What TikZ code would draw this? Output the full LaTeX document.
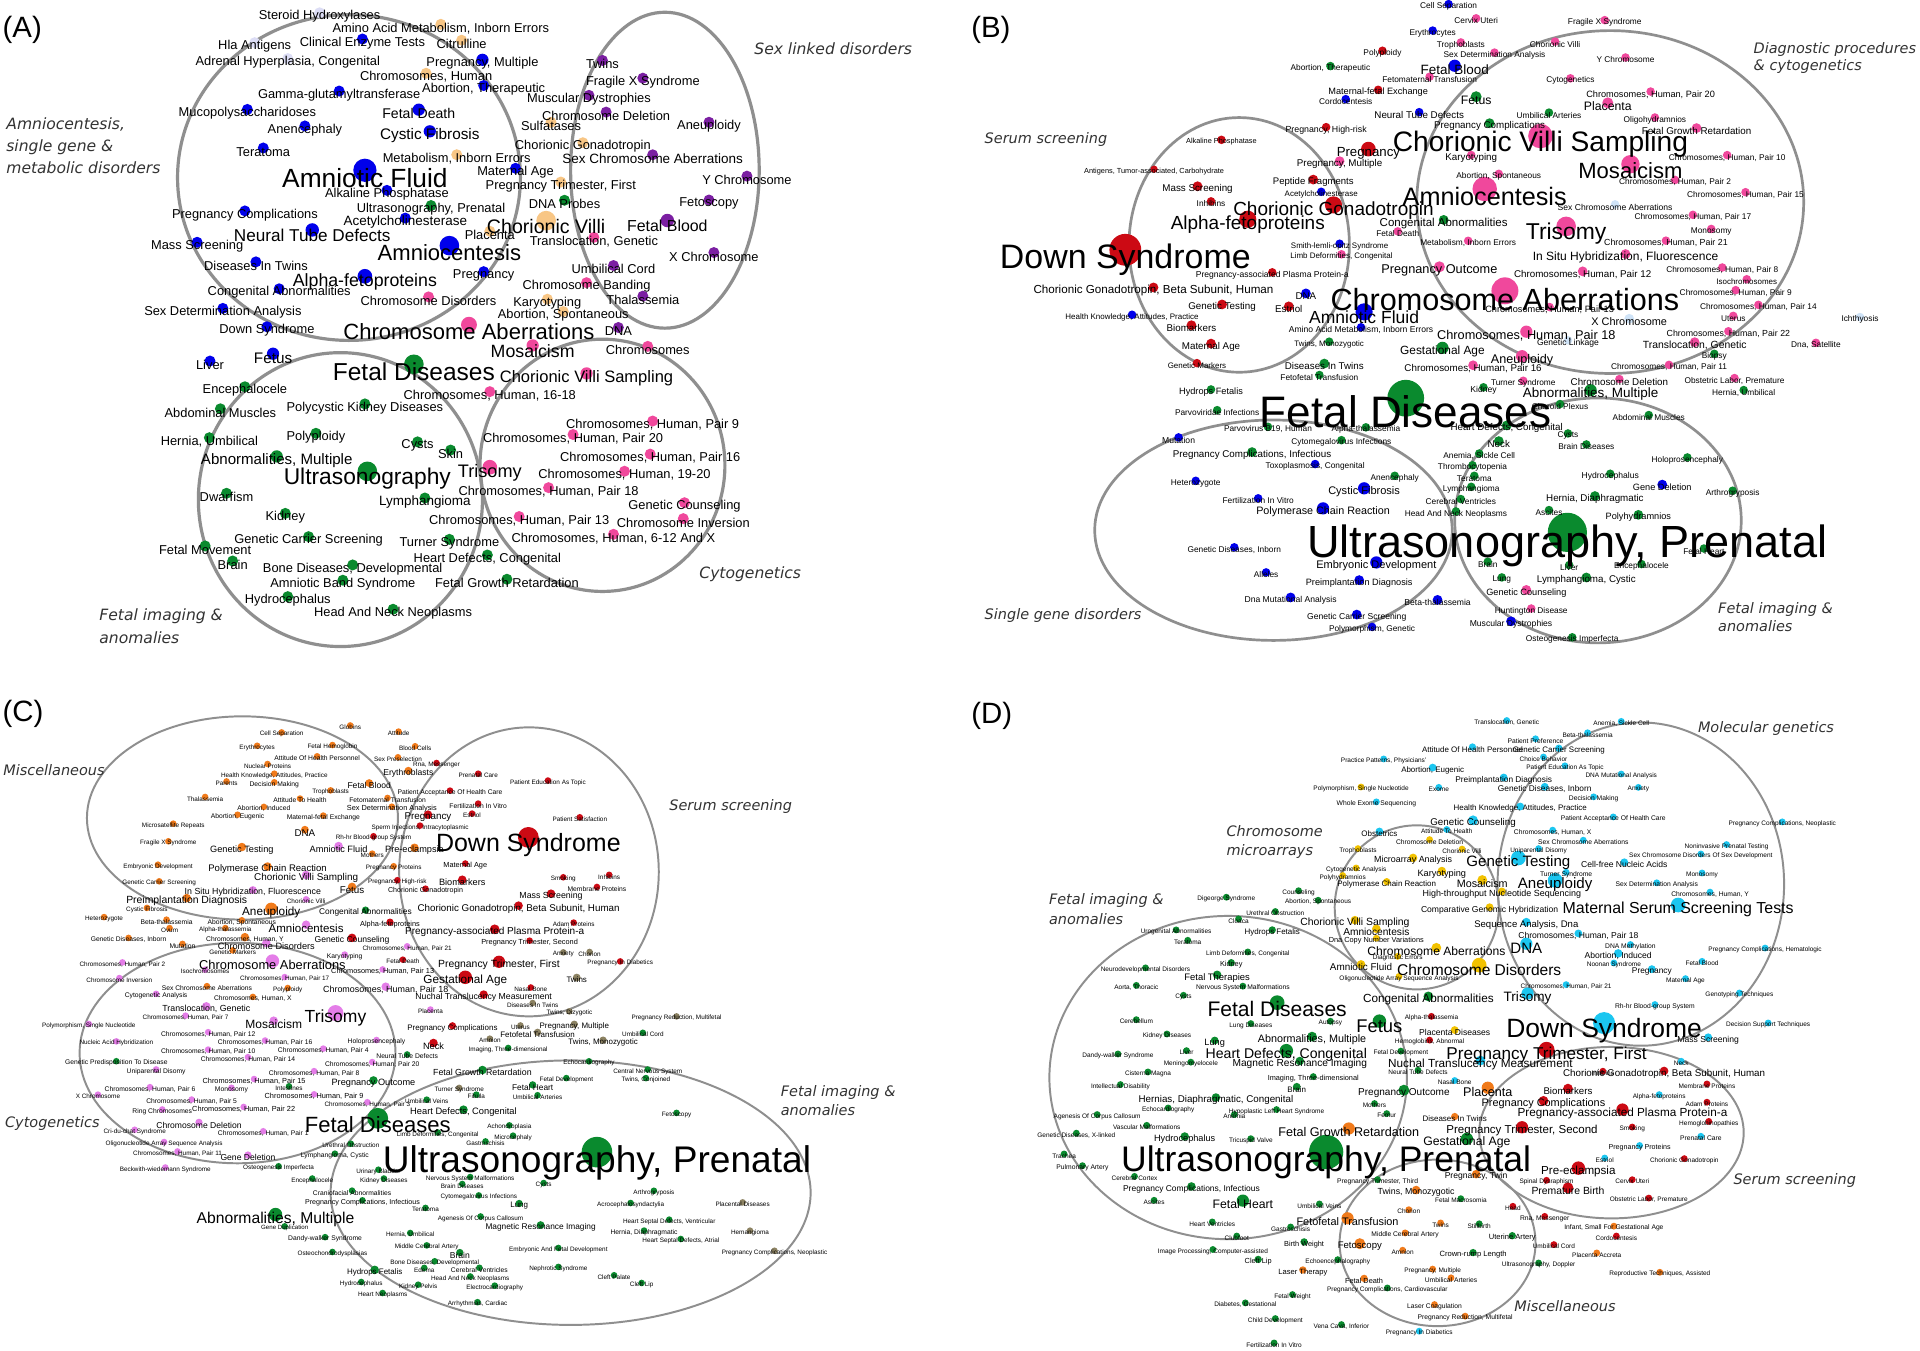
\documentclass[tikz,border=0pt]{standalone}
\usepackage{fontspec}
\setmainfont{Liberation Sans}
\newfontfamily\clfont{DejaVu Sans}
\definecolor{bA}{HTML}{0000EB}
\definecolor{pA}{HTML}{7B1FA2}
\definecolor{kA}{HTML}{F0489C}
\definecolor{gA}{HTML}{0A8A2E}
\definecolor{tA}{HTML}{F8C685}
\definecolor{lA}{HTML}{DCDDF5}
\definecolor{rB}{HTML}{CC0A14}
\definecolor{lb}{HTML}{CFE3F7}
\definecolor{cD}{HTML}{1BC6F0}
\definecolor{yD}{HTML}{F2C200}
\definecolor{oC}{HTML}{F07A1A}
\definecolor{vC}{HTML}{E47DE8}
\definecolor{nC}{HTML}{8C8262}
\definecolor{ellc}{HTML}{8F8F8F}
\definecolor{clc}{HTML}{333333}
\tikzset{
  lbl/.style={inner sep=0pt, text=black},
  ell/.style={draw=ellc},
  cll/.style={inner sep=0pt, anchor=west, text=clc},
  panl/.style={inner sep=0pt, anchor=west, font=\fontsize{24}{24}\selectfont}
}
\newcommand\cl[4]{\node[cll,font=\clfont\itshape\fontsize{#3}{#3}\selectfont] (#4) at (#1) {#2};}
\newcommand\alldata{%
% ---------------- Panel A
\lab{261}{13.6}{lA}{4.5}{10.5}{Steroid Hydroxylases}
\lab{360}{23}{tA}{4.5}{10.5}{Amino Acid Metabolism, Inborn Errors}
\lab{208}{38}{lA}{4.5}{10.5}{Hla Antigens}
\lab{296}{35}{bA}{4.5}{10.5}{Clinical Enzyme Tests}
\lab{377}{36}{tA}{4.5}{10.5}{Citrulline}
\lab{235}{51}{lA}{4.5}{10.5}{Adrenal Hyperplasia, Congenital}
\lab{394}{52}{bA}{5}{10.5}{Pregnancy, Multiple}
\lab{348}{63}{tA}{4.5}{10.5}{Chromosomes, Human}
\lab{277}{77.5}{bA}{4.5}{10.5}{Gamma-glutamyltransferase}
\lab{395}{73}{bA}{4.5}{10.5}{Abortion, Therapeutic}
\lab{202}{92.5}{bA}{4.5}{10.5}{Mucopolysaccharidoses}
\lab{342}{93}{bA}{5}{11.5}{Fetal Death}
\lab{249}{106}{bA}{4.5}{10.5}{Anencephaly}
\lab{351}{111}{bA}{5}{12.5}{Cystic Fibrosis}
\lab{215}{124}{bA}{4.5}{10.5}{Teratoma}
\lab{373}{129.5}{tA}{4.5}{10.5}{Metabolism, Inborn Errors}
\lab{298}{145.5}{bA}{9.5}{21.5}{Amniotic Fluid}
\lab{421}{140.6}{bA}{4.5}{10.5}{Maternal Age}
\lab{316}{158.6}{bA}{4.5}{10.5}{Alkaline Phosphatase}
\lab{458}{151.8}{tA}{4.5}{10.5}{Pregnancy Trimester, First}
\lab{461}{166.7}{gA}{4.5}{10.5}{DNA Probes}
\lab{352}{171}{gA}{4.5}{10.5}{Ultrasonography, Prenatal}
\lab{200}{175.4}{bA}{4.5}{10.5}{Pregnancy Complications}
\lab{331}{181.4}{bA}{4.5}{11}{Acetylcholinesterase}
\lab{446}{185}{tA}{8}{16}{Chorionic Villi}
\lab{545}{184}{pA}{5.5}{13}{Fetal Blood}
\lab{255}{192}{bA}{5.5}{14}{Neural Tube Defects}
\lab{400}{192}{tA}{4.5}{10.5}{Placenta}
\lab{485}{197}{kA}{4.5}{10.5}{Translocation, Genetic}
\lab{367}{206}{bA}{8}{18}{Amniocentesis}
\lab{583}{209.4}{pA}{4.5}{10.5}{X Chromosome}
\lab{161}{201}{bA}{4.5}{10.5}{Mass Screening}
\lab{209}{217}{bA}{4.5}{10.5}{Diseases In Twins}
\lab{501}{220}{pA}{4.5}{10.5}{Umbilical Cord}
\lab{298}{230}{bA}{6}{14.5}{Alpha-fetoproteins}
\lab{395}{225}{bA}{4.5}{10.5}{Pregnancy}
\lab{479}{234}{kA}{4.5}{10.5}{Chromosome Banding}
\lab{228}{239}{bA}{4.5}{10.5}{Congenital Abnormalities}
\lab{525}{245}{pA}{4.5}{10.5}{Thalassemia}
\lab{350}{245.6}{kA}{4.5}{10.5}{Chromosome Disorders}
\lab{447}{247.5}{tA}{4.5}{10.5}{Karyotyping}
\lab{182}{255}{bA}{4.5}{10.5}{Sex Determination Analysis}
\lab{460}{257.6}{tA}{4.5}{10.5}{Abortion, Spontaneous}
\lab{218}{270}{bA}{4.5}{10.5}{Down Syndrome}
\lab{383}{270.6}{kA}{6.5}{18}{Chromosome Aberrations}
\lab{505}{270.6}{pA}{4.5}{10.5}{DNA}
\lab{492}{52.5}{pA}{4.5}{10.5}{Twins}
\lab{525}{67}{pA}{4.5}{10.5}{Fragile X Syndrome}
\lab{481}{81}{pA}{4.5}{10.5}{Muscular Dystrophies}
\lab{495}{94.7}{pA}{4.5}{10.5}{Chromosome Deletion}
\lab{450}{103}{tA}{4.5}{10.5}{Sulfatases}
\lab{579}{103}{pA}{4.5}{10.5}{Aneuploidy}
\lab{476}{119.7}{tA}{4.5}{10.5}{Chorionic Gonadotropin}
\lab{533}{129.7}{pA}{4.5}{11}{Sex Chromosome Aberrations}
\lab{610}{147}{pA}{4.5}{10.5}{Y Chromosome}
\lab{579}{166.5}{pA}{4.5}{10.5}{Fetoscopy}
\lab{435}{286.4}{kA}{5}{14.5}{Mosaicism}
\lab{529}{286}{kA}{4.5}{10.5}{Chromosomes}
\lab{171.5}{298}{bA}{4.5}{10.5}{Liver}
\lab{223}{292.6}{bA}{5}{12.5}{Fetus}
\lab{338}{303.5}{gA}{8}{20}{Fetal Diseases}
\lab{479}{309}{kA}{5}{13.5}{Chorionic Villi Sampling}
\lab{200}{319}{gA}{4.5}{10.5}{Encephalocele}
\lab{400}{323}{kA}{4.5}{10.5}{Chromosomes, Human, 16-18}
\lab{180}{337}{gA}{4.5}{10.5}{Abdominal Muscles}
\lab{298}{333}{gA}{4.5}{10.5}{Polycystic Kidney Diseases}
\lab{533}{347}{kA}{4.5}{10.5}{Chromosomes, Human, Pair 9}
\lab{468}{358}{kA}{4.5}{10.5}{Chromosomes, Human, Pair 20}
\lab{171}{360.6}{gA}{4.5}{10.5}{Hernia, Umbilical}
\lab{258}{357}{gA}{4.5}{10.5}{Polyploidy}
\lab{341}{364}{gA}{4.5}{10.5}{Cysts}
\lab{368}{370.7}{gA}{4.5}{10.5}{Skin}
\lab{531}{374}{kA}{4.5}{10.5}{Chromosomes, Human, Pair 16}
\lab{226}{376.4}{gA}{5}{12.3}{Abnormalities, Multiple}
\lab{300}{390.5}{gA}{8}{18.6}{Ultrasonography}
\lab{400}{386}{kA}{6}{14.8}{Trisomy}
\lab{510}{388}{kA}{4.5}{10.5}{Chromosomes, Human, 19-20}
\lab{448}{401.4}{kA}{4.5}{10.5}{Chromosomes, Human, Pair 18}
\lab{185}{406}{gA}{4.5}{10.5}{Dwarfism}
\lab{347}{410}{gA}{4.5}{11}{Lymphangioma}
\lab{559}{413.7}{kA}{4.5}{10.5}{Genetic Counseling}
\lab{233}{422.4}{gA}{4.5}{10.5}{Kidney}
\lab{424}{425}{kA}{4.5}{10.5}{Chromosomes, Human, Pair 13}
\lab{558}{426.7}{kA}{4.5}{10.5}{Chromosome Inversion}
\lab{252}{441.4}{gA}{4.5}{10.5}{Genetic Carrier Screening}
\lab{501}{439.5}{kA}{4.5}{10.5}{Chromosomes, Human, 6-12 And X}
\lab{367}{443.6}{gA}{4.5}{10.5}{Turner Syndrome}
\lab{167.5}{449}{gA}{4.5}{10.5}{Fetal Movement}
\lab{398}{456.4}{gA}{4.5}{10.5}{Heart Defects, Congenital}
\lab{190}{461.3}{gA}{4.5}{10.5}{Brain}
\lab{288}{464.5}{gA}{4.5}{10.5}{Bone Diseases, Developmental}
\lab{280}{477}{gA}{4.5}{10.5}{Amniotic Band Syndrome}
\lab{414}{476.2}{gA}{4.5}{10.5}{Fetal Growth Retardation}
\lab{235}{490.4}{gA}{4.5}{10.5}{Hydrocephalus}
\lab{321}{500.7}{gA}{4.5}{10.5}{Head And Neck Neoplasms}
% ---------------- Panel B
\lab{1183}{5.4}{bA}{3.5}{6.8}{Cell Separation}
\lab{1205.5}{17}{kA}{3.5}{6.8}{Cervix Uteri}
\lab{1310.5}{18.5}{kA}{3.5}{6.8}{Fragile X Syndrome}
\lab{1170}{27}{bA}{3.5}{6.8}{Erythrocytes}
\lab{1193}{36.7}{kA}{3.5}{6.8}{Trophoblasts}
\lab{1270}{36}{kA}{3.5}{6.8}{Chorionic Villi}
\lab{1129}{43.5}{rB}{3.5}{6.8}{Polyploidy}
\lab{1220.5}{45}{kA}{3.5}{6.8}{Sex Determination Analysis}
\lab{1327.5}{49}{kA}{3.5}{6.8}{Y Chromosome}
\lab{1086.5}{56}{gA}{3.5}{6.8}{Abortion, Therapeutic}
\lab{1188}{57}{bA}{5}{11}{Fetal Blood}
\lab{1167.5}{64.7}{kA}{3.5}{6.8}{Fetomaternal Transfusion}
\lab{1282.5}{66}{kA}{3.5}{6.8}{Cytogenetics}
\lab{1348}{77}{kA}{3.5}{7.5}{Chromosomes, Human, Pair 20}
\lab{1125.5}{75.6}{rB}{3.5}{7.5}{Maternal-fetal Exchange}
\lab{1099}{83}{bA}{3.5}{6.8}{Cordocentesis}
\lab{1205.5}{82}{gA}{4.5}{10}{Fetus}
\lab{1313}{87}{kA}{4.5}{10}{Placenta}
\lab{1159}{94}{bA}{3.5}{8}{Neural Tube Defects}
\lab{1265}{94}{gA}{3.5}{6.8}{Umbilical Arteries}
\lab{1351.5}{98}{kA}{3.5}{6.8}{Oligohydramnios}
\lab{1083}{106}{rB}{3.5}{7.2}{Pregnancy, High-risk}
\lab{1216.5}{103}{gA}{4}{8}{Pregnancy Complications}
\lab{1385.5}{107}{kA}{4}{8}{Fetal Growth Retardation}
\lab{997.5}{116}{rB}{3.5}{6}{Alkaline Phosphatase}
\lab{1258}{118}{kA}{10}{23}{Chorionic Villi Sampling}
\lab{1117.5}{125}{rB}{6}{10.8}{Pregnancy}
\lab{1201.5}{129}{kA}{3.5}{8}{Karyotyping}
\lab{1410.5}{128.7}{kA}{3.5}{6.8}{Chromosomes, Human, Pair 10}
\lab{1094}{134}{kA}{4}{8}{Pregnancy, Multiple}
\lab{1331.5}{139.5}{kA}{7.5}{18}{Mosaicism}
\lab{942.5}{140}{rB}{3}{6}{Antigens, Tumor-associated, Carbohydrate}
\lab{1224}{144}{kA}{3.5}{6.8}{Abortion, Spontaneous}
\lab{1072.5}{149}{rB}{4}{7.8}{Peptide Fragments}
\lab{1368}{149}{kA}{3.5}{6.8}{Chromosomes, Human, Pair 2}
\lab{978}{154.5}{rB}{4}{8}{Mass Screening}
\lab{1079}{158.6}{bA}{3.5}{6.5}{Acetylcholinesterase}
\lab{1212.5}{160.5}{kA}{10}{20.6}{Amniocentesis}
\lab{1425.5}{159}{kA}{3.5}{6.8}{Chromosomes, Human, Pair 15}
\lab{989}{166.5}{rB}{3.5}{6.8}{Inhibins}
\lab{1319}{169}{lb}{3.5}{7}{Sex Chromosome Aberrations}
\lab{1089}{172}{rB}{7}{15.5}{Chorionic Gonadotropin}
\lab{1179}{182.4}{gA}{4}{9.4}{Congenital Abnormalities}
\lab{1382.5}{177.5}{kA}{3.5}{6.8}{Chromosomes, Human, Pair 17}
\lab{1019}{183.7}{rB}{7}{15.5}{Alpha-fetoproteins}
\lab{1397.5}{189}{kA}{3.5}{6.8}{Monosomy}
\lab{1279}{190.5}{kA}{8}{18.7}{Trisomy}
\lab{1141.5}{191}{kA}{3.5}{6.8}{Fetal Death}
\lab{1199}{198.7}{kA}{3.5}{6.8}{Metabolism, Inborn Errors}
\lab{1360.5}{198.7}{kA}{3.5}{7.2}{Chromosomes, Human, Pair 21}
\lab{1094}{201}{bA}{3.5}{6.5}{Smith-lemli-opitz Syndrome}
\lab{919}{212.3}{rB}{13}{27.7}{Down Syndrome}
\lab{1327.5}{210.4}{kA}{4}{9.8}{In Situ Hybridization, Fluorescence}
\lab{1095.5}{209.6}{kA}{3.5}{6.5}{Limb Deformities, Congenital}
\lab{1175.5}{221}{kA}{4.5}{10.4}{Pregnancy Outcome}
\lab{1292.5}{224}{kA}{4}{8}{Chromosomes, Human, Pair 12}
\lab{1406.5}{220.5}{kA}{3.5}{6.8}{Chromosomes, Human, Pair 8}
\lab{1039}{224.5}{rB}{3.5}{7}{Pregnancy-associated Plasma Protein-a}
\lab{1426.5}{230}{kA}{3.5}{6.5}{Isochromosomes}
\lab{942}{237.6}{rB}{4}{9.5}{Chorionic Gonadotropin, Beta Subunit, Human}
\lab{1229}{245}{kA}{11}{25}{Chromosome Aberrations}
\lab{1417.5}{239}{kA}{3.5}{6.8}{Chromosomes, Human, Pair 9}
\lab{1066.5}{242}{bA}{4}{8}{DNA}
\lab{998}{251}{rB}{4}{8}{Genetic Testing}
\lab{1052.5}{252.6}{rB}{4}{8}{Estriol}
\lab{1436}{251}{kA}{3.5}{6.8}{Chromosomes, Human, Pair 14}
\lab{924.5}{259}{bA}{3.5}{6.5}{Health Knowledge, Attitudes, Practice}
\lab{1265.5}{253}{kA}{3.5}{7.5}{Chromosomes, Human, Pair 13}
\lab{1114}{259}{bA}{7}{14.3}{Amniotic Fluid}
\lab{1415.5}{260}{kA}{3.5}{6.8}{Uterus}
\lab{1519}{261}{lb}{3.5}{6.8}{Ichthyosis}
\lab{1330.5}{263}{lb}{4}{8.9}{X Chromosome}
\lab{973}{268}{rB}{4}{8}{Biomarkers}
\lab{1111.5}{269.4}{bA}{3.5}{7}{Amino Acid Metabolism, Inborn Errors}
\lab{1246.5}{274}{kA}{5}{10.4}{Chromosomes, Human, Pair 18}
\lab{1411.5}{272.7}{kA}{3.5}{7.2}{Chromosomes, Human, Pair 22}
\lab{1280.5}{280}{lb}{3.5}{7}{Genetic Linkage}
\lab{989}{283}{rB}{4}{8}{Maternal Age}
\lab{1085.5}{281}{gA}{3.5}{6.5}{Twins, Monozygotic}
\lab{1384}{282}{kA}{4}{8.5}{Translocation, Genetic}
\lab{1483}{282}{kA}{3.5}{6.8}{Dna, Satellite}
\lab{1178}{287}{gA}{5}{9.7}{Gestational Age}
\lab{1243}{294}{kA}{5}{10.3}{Aneuploidy}
\lab{1400}{291}{gA}{3.5}{6.8}{Biopsy}
\lab{977.5}{298.5}{rB}{3.5}{6.5}{Genetic Markers}
\lab{1081.5}{299.3}{gA}{4}{8}{Diseases In Twins}
\lab{1203}{300.7}{kA}{4}{8}{Chromosomes, Human, Pair 16}
\lab{1363}{300}{kA}{3.5}{6.8}{Chromosomes, Human, Pair 11}
\lab{1077.5}{308.3}{gA}{3.5}{6.8}{Fetofetal Transfusion}
\lab{1244}{313}{kA}{3.5}{6.8}{Turner Syndrome}
\lab{1322.5}{312}{kA}{3.5}{8}{Chromosome Deletion}
\lab{1416.5}{310.8}{kA}{3.5}{6.8}{Obstetric Labor, Premature}
\lab{1211.5}{318.4}{gA}{3.5}{7}{Kidney}
\lab{1299}{322}{gA}{5}{11}{Abnormalities, Multiple}
\lab{1424}{320.6}{gA}{3.5}{6.8}{Hernia, Umbilical}
\lab{989}{320.3}{gA}{3.5}{7.5}{Hydrops Fetalis}
\lab{1148}{336}{gA}{15}{36}{Fetal Diseases}
\lab{1274}{332}{gA}{3.5}{6.8}{Choroid Plexus}
\lab{994}{337}{gA}{3.5}{6.8}{Parvoviridae Infections}
\lab{1346.5}{341}{gA}{3.5}{6.8}{Abdominal Muscles}
\lab{1035.5}{350.6}{gA}{3.5}{6.8}{Parvovirus B19, Human}
\lab{1115.5}{351}{gA}{3.5}{6.8}{Alpha-thalassemia}
\lab{1230.5}{349.8}{gA}{4}{8}{Heart Defects, Congenital}
\lab{962.5}{359.3}{bA}{3.5}{7}{Mutation}
\lab{1095.5}{361.5}{gA}{3.5}{6.8}{Cytomegalovirus Infections}
\lab{1280.5}{356}{gA}{3.5}{6.8}{Cysts}
\lab{1224}{362.6}{gA}{4}{8}{Neck}
\lab{1295.5}{365}{gA}{3.5}{6.8}{Brain Diseases}
\lab{1022.5}{371.6}{gA}{4}{8}{Pregnancy Complications, Infectious}
\lab{1208}{372.4}{gA}{3.5}{6.8}{Anemia, Sickle Cell}
\lab{1378}{375.6}{gA}{3.5}{6.8}{Holoprosencephaly}
\lab{1074}{381}{bA}{3.5}{6.8}{Toxoplasmosis, Congenital}
\lab{1202.5}{382}{gA}{3.5}{6.8}{Thrombocytopenia}
\lab{1139}{390.6}{gA}{3.5}{6.8}{Anencephaly}
\lab{1204}{390.6}{gA}{3.5}{6.8}{Teratoma}
\lab{1315}{389}{gA}{3.5}{7}{Hydrocephalus}
\lab{976.5}{394.7}{bA}{3.5}{6.8}{Heterozygote}
\lab{1114}{401.5}{bA}{5}{9}{Cystic Fibrosis}
\lab{1201.5}{399.6}{gA}{3.5}{6.8}{Lymphangioma}
\lab{1357.5}{398}{bA}{4}{7.5}{Gene Deletion}
\lab{1415}{402.8}{gA}{3.5}{6.8}{Arthrogryposis}
\lab{1027.5}{409}{bA}{3.5}{6.8}{Fertilization In Vitro}
\lab{1193}{409.6}{gA}{3.5}{6.8}{Cerebral Ventricles}
\lab{1302.5}{407.5}{gA}{4}{8}{Hernia, Diaphragmatic}
\lab{1080.5}{417.8}{bA}{5}{8.8}{Polymerase Chain Reaction}
\lab{1189}{419.7}{gA}{3.5}{6.8}{Head And Neck Neoplasms}
\lab{1265}{418.6}{gA}{3.5}{6.8}{Ascites}
\lab{1338}{422.7}{gA}{4}{7.5}{Polyhydramnios}
\lab{1391.5}{450}{gA}{3.5}{6.8}{Fetal Heart}
\lab{1280}{445.8}{gA}{16}{36.8}{Ultrasonography, Prenatal}
\lab{1008}{449}{bA}{3.5}{6.8}{Genetic Diseases, Inborn}
\lab{1124}{462}{bA}{5}{9}{Embryonic Development}
\lab{1215}{460.8}{gA}{3.5}{6.8}{Brain}
\lab{1281.5}{463.5}{gA}{3.5}{6.8}{Liver}
\lab{1340.5}{462.7}{gA}{3.5}{6.8}{Encephalocele}
\lab{1034}{469.5}{bA}{3.5}{6.8}{Alleles}
\lab{1226.5}{473.6}{gA}{3.5}{6.8}{Lung}
\lab{1295.5}{474}{gA}{4}{8}{Lymphangioma, Cystic}
\lab{1110}{476}{bA}{4}{7.5}{Preimplantation Diagnosis}
\lab{1246.5}{484}{kA}{4}{7.5}{Genetic Counseling}
\lab{1054}{490}{bA}{4}{7}{Dna Mutational Analysis}
\lab{1174}{492}{bA}{4}{7}{Beta-thalassemia}
\lab{1250.5}{499}{kA}{3.5}{6.8}{Huntington Disease}
\lab{1108}{504}{bA}{4}{7}{Genetic Carrier Screening}
\lab{1234}{509.5}{bA}{4}{7}{Muscular Dystrophies}
\lab{1120.5}{514}{bA}{3.5}{6.8}{Polymorphism, Genetic}
\lab{1284}{522.5}{gA}{3.5}{6.8}{Osteogenesis Imperfecta}
% ---------------- Panel C
\lab{286}{594}{oC}{2.7}{5.2}{Globins}
\lab{230}{599.7}{oC}{2.7}{5.2}{Cell Separation}
\lab{325.5}{599}{oC}{2.7}{5.2}{Attitude}
\lab{210}{610.6}{oC}{2.7}{5.2}{Erythrocytes}
\lab{271.5}{610}{oC}{2.7}{5.2}{Fetal Hemoglobin}
\lab{339}{611}{oC}{2.7}{5.2}{Blood Cells}
\lab{259}{619.3}{oC}{2.7}{5.5}{Attitude Of Health Personnel}
\lab{325}{620}{oC}{2.7}{5.2}{Sex Preselection}
\lab{356.5}{624.7}{rB}{2.7}{5.2}{Rna, Messenger}
\lab{218.5}{625.5}{oC}{2.7}{5.2}{Nuclear Proteins}
\lab{224}{633.4}{oC}{2.7}{5.2}{Health Knowledge, Attitudes, Practice}
\lab{333.5}{631.5}{oC}{3.2}{7}{Erythroblasts}
\lab{390.5}{633.4}{rB}{2.7}{5.2}{Prenatal Care}
\lab{447.5}{639}{rB}{2.7}{5.2}{Patient Education As Topic}
\lab{185}{639.7}{oC}{2.7}{5.2}{Parents}
\lab{224}{640.5}{oC}{2.7}{5.5}{Decision Making}
\lab{301.5}{641.6}{oC}{3.2}{7}{Fetal Blood}
\lab{270}{647}{oC}{2.7}{5.2}{Trophoblasts}
\lab{367.5}{647.3}{rB}{2.7}{5.5}{Patient Acceptance Of Health Care}
\lab{167.5}{652.4}{oC}{2.7}{5.2}{Thalassemia}
\lab{245}{653.8}{oC}{2.7}{5.5}{Attitude To Health}
\lab{316.5}{653.3}{oC}{2.7}{5.5}{Fetomaternal Transfusion}
\lab{390.5}{657.9}{rB}{2.7}{5.5}{Fertilization In Vitro}
\lab{215.5}{660.6}{oC}{2.7}{5.5}{Abortion, Induced}
\lab{320}{660.6}{oC}{2.7}{6}{Sex Determination Analysis}
\lab{385.5}{666}{rB}{2.7}{5.2}{Estriol}
\lab{349.5}{667.7}{rB}{3.5}{8}{Pregnancy}
\lab{194}{667}{oC}{2.7}{5.5}{Abortion, Eugenic}
\lab{264}{667.7}{oC}{2.7}{5.5}{Maternal-fetal Exchange}
\lab{473.5}{669}{rB}{2.7}{5.2}{Patient Satisfaction}
\lab{141.5}{674.2}{oC}{2.7}{5.2}{Microsatellite Repeats}
\lab{343}{675.8}{rB}{2.7}{5.2}{Sperm Injections, Intracytoplasmic}
\lab{249}{680}{oC}{3.2}{8}{DNA}
\lab{305}{684.5}{rB}{2.7}{5.2}{Rh-hr Blood-group System}
\lab{431.5}{690}{rB}{8.5}{20.4}{Down Syndrome}
\lab{137.5}{688.6}{oC}{2.7}{5.2}{Fragile X Syndrome}
\lab{197.5}{694}{oC}{3.5}{7.5}{Genetic Testing}
\lab{276.5}{693.2}{vC}{3.5}{7.5}{Amniotic Fluid}
\lab{304}{698.7}{oC}{2.7}{5.2}{Mothers}
\lab{338.5}{694.6}{oC}{3.5}{7.5}{Pre-eclampsia}
\lab{129}{707.7}{oC}{2.7}{5.2}{Embryonic Development}
\lab{218.5}{710}{oC}{3.5}{7.8}{Polymerase Chain Reaction}
\lab{321.5}{709}{oC}{2.7}{5.2}{Pregnancy Proteins}
\lab{380}{707}{rB}{2.7}{6}{Maternal Age}
\lab{250}{717}{vC}{3.5}{8.1}{Chorionic Villi Sampling}
\lab{460}{718}{rB}{2.7}{5.2}{Smoking}
\lab{497.5}{716}{rB}{2.7}{5.2}{Inhibins}
\lab{130}{721.3}{oC}{2.7}{5.2}{Genetic Carrier Screening}
\lab{324.5}{720.4}{rB}{2.7}{5.2}{Pregnancy, High-risk}
\lab{377.5}{720.7}{rB}{3.5}{7.5}{Biomarkers}
\lab{487.5}{726}{rB}{2.7}{5.5}{Membrane Proteins}
\lab{287.5}{726.7}{oC}{3.5}{8}{Fetus}
\lab{206.5}{729}{vC}{3.2}{7.2}{In Situ Hybridization, Fluorescence}
\lab{347.5}{727.5}{rB}{2.7}{5.8}{Chorionic Gonadotropin}
\lab{450}{732}{rB}{3.5}{7.2}{Mass Screening}
\lab{152.5}{736}{oC}{3.5}{8.5}{Preimplantation Diagnosis}
\lab{250}{736}{vC}{2.7}{5.2}{Chorionic Villi}
\lab{423.5}{742}{rB}{3.5}{8}{Chorionic Gonadotropin, Beta Subunit, Human}
\lab{120}{743}{oC}{2.7}{5.2}{Cystic Fibrosis}
\lab{221.5}{745}{oC}{5}{9.6}{Aneuploidy}
\lab{298.5}{745.3}{gA}{3}{6.8}{Congenital Abnormalities}
\lab{85}{750.5}{oC}{2.7}{5.2}{Heterozygote}
\lab{136}{752.7}{oC}{2.7}{5.5}{Beta-thalassemia}
\lab{197.5}{753.2}{oC}{2.7}{5.5}{Abortion, Spontaneous}
\lab{318.5}{754.9}{rB}{3}{6}{Alpha-fetoproteins}
\lab{468.5}{755}{rB}{2.7}{5.2}{Adam Proteins}
\lab{138.5}{759.5}{oC}{2.7}{5.2}{Ovum}
\lab{184}{759.5}{oC}{2.7}{5.2}{Alpha-thalassemia}
\lab{250}{758}{vC}{3.5}{9.4}{Amniocentesis}
\lab{404}{761.4}{rB}{4}{8.2}{Pregnancy-associated Plasma Protein-a}
\lab{200}{767}{oC}{3.5}{5.5}{Chromosomes, Human, Y}
\lab{105}{767.6}{oC}{2.7}{5.5}{Genetic Diseases, Inborn}
\lab{287.5}{768}{rB}{3.5}{7}{Genetic Counseling}
\lab{432.5}{770}{rB}{2.7}{6}{Pregnancy Trimester, Second}
\lab{149}{772.5}{oC}{2.7}{5.5}{Mutation}
\lab{217.5}{772.5}{vC}{3.5}{7.5}{Chromosome Disorders}
\lab{332.5}{774.4}{vC}{2.7}{5.2}{Chromosomes, Human, Pair 21}
\lab{190}{777.7}{oC}{2.7}{5.2}{Genetic Markers}
\lab{460}{779.3}{nC}{2.7}{5.2}{Anxiety}
\lab{481.5}{779}{nC}{2.7}{5.2}{Chorion}
\lab{506.5}{786.7}{rB}{2.7}{5.2}{Pregnancy In Diabetics}
\lab{281.5}{781.2}{vC}{2.7}{5.5}{Karyotyping}
\lab{329}{785.3}{rB}{2.7}{5.2}{Fetal Death}
\lab{100}{787.5}{vC}{2.7}{5.2}{Chromosomes, Human, Pair 2}
\lab{222.5}{788}{vC}{5.5}{10.5}{Chromosome Aberrations}
\lab{407.5}{788}{rB}{5}{8.5}{Pregnancy Trimester, First}
\lab{167.5}{793.5}{vC}{2.7}{5.2}{Isochromosomes}
\lab{312.5}{793.5}{vC}{2.7}{6}{Chromosomes, Human, Pair 13}
\lab{232.5}{799.5}{vC}{2.7}{5.2}{Chromosomes, Human, Pair 17}
\lab{97.5}{800.3}{vC}{2.7}{5.2}{Chromosome Inversion}
\lab{380}{801}{rB}{5.5}{9.6}{Gestational Age}
\lab{471}{800.3}{nC}{3.2}{6.5}{Twins}
\lab{315}{808}{vC}{3.5}{7.3}{Chromosomes, Human, Pair 18}
\lab{169}{807}{oC}{2.7}{5.5}{Sex Chromosome Aberrations}
\lab{235}{808.4}{oC}{2.7}{5.2}{Polyploidy}
\lab{433.5}{808}{rB}{2.7}{5.2}{Nasal Bone}
\lab{127.5}{813.3}{vC}{2.7}{5.5}{Cytogenetic Analysis}
\lab{206.5}{815.8}{oC}{2.7}{5.5}{Chromosomes, Human, X}
\lab{395}{814.4}{rB}{3.5}{7.1}{Nuchal Translucency Measurement}
\lab{435}{820.7}{nC}{2.7}{5.2}{Diseases In Twins}
\lab{465}{827.5}{nC}{2.7}{5.2}{Twins, Dizygotic}
\lab{168.5}{824}{vC}{3.5}{7.2}{Translocation, Genetic}
\lab{151.5}{831}{vC}{2.7}{5.2}{Chromosomes, Human, Pair 7}
\lab{351.5}{826}{vC}{2.7}{5.2}{Placenta}
\lab{274}{831.6}{vC}{6.5}{14.3}{Trisomy}
\lab{223.5}{836.5}{vC}{3.5}{9.8}{Mosaicism}
\lab{552.5}{831.6}{nC}{2.7}{5.2}{Pregnancy Reduction, Multifetal}
\lab{72.5}{837.8}{vC}{2.7}{5.2}{Polymorphism, Single Nucleotide}
\lab{369.5}{839.7}{rB}{3}{6.5}{Pregnancy Complications}
\lab{425}{839}{nC}{2.7}{5.2}{Uterus}
\lab{469}{838.4}{nC}{3}{6.5}{Pregnancy, Multiple}
\lab{439}{845}{nC}{3}{6.5}{Fetofetal Transfusion}
\lab{525}{845}{gA}{2.7}{5.2}{Umbilical Cord}
\lab{170}{844.6}{vC}{2.7}{5.5}{Chromosomes, Human, Pair 12}
\lab{400}{849.8}{nC}{2.7}{5.2}{Amnion}
\lab{492.5}{851.4}{nC}{3}{6.5}{Twins, Monozygotic}
\lab{95}{852}{vC}{2.7}{5.2}{Nucleic Acid Hybridization}
\lab{216.5}{851.4}{vC}{2.7}{5.5}{Chromosomes, Human, Pair 16}
\lab{307.5}{851}{vC}{2.7}{5.5}{Holoprosencephaly}
\lab{354}{854}{rB}{3.5}{7.5}{Neck}
\lab{415}{857.4}{gA}{2.7}{5.2}{Imaging, Three-dimensional}
\lab{170}{858.8}{vC}{2.7}{5.5}{Chromosomes, Human, Pair 10}
\lab{264}{858}{vC}{2.7}{5.5}{Chromosomes, Human, Pair 4}
\lab{332.5}{862.8}{gA}{2.7}{5.5}{Neural Tube Defects}
\lab{202.5}{865}{vC}{2.7}{5.5}{Chromosomes, Human, Pair 14}
\lab{95}{868.3}{gA}{2.7}{5.5}{Genetic Predisposition To Disease}
\lab{481}{868.3}{gA}{2.7}{5.2}{Echocardiography}
\lab{304}{869}{vC}{2.7}{5.5}{Chromosomes, Human, Pair 20}
\lab{127.5}{875}{vC}{2.7}{5.5}{Uniparental Disomy}
\lab{529}{875}{gA}{2.7}{5.2}{Central Nervous System}
\lab{394}{876}{gA}{3.5}{7.2}{Fetal Growth Retardation}
\lab{256.5}{876.4}{vC}{2.7}{5.5}{Chromosomes, Human, Pair 8}
\lab{462.5}{882}{gA}{2.7}{5.2}{Fetal Development}
\lab{527.5}{882}{gA}{2.7}{5.2}{Twins, Conjoined}
\lab{207.5}{883}{vC}{2.7}{6}{Chromosomes, Human, Pair 15}
\lab{305}{884.6}{gA}{3.5}{7.5}{Pregnancy Outcome}
\lab{189}{890}{vC}{2.7}{5.5}{Monosomy}
\lab{236}{888.7}{gA}{2.7}{5.2}{Intestines}
\lab{122.5}{889.5}{vC}{2.7}{5.5}{Chromosomes, Human, Pair 6}
\lab{375}{890}{nC}{2.7}{5.2}{Turner Syndrome}
\lab{435}{888}{gA}{3}{6.8}{Fetal Heart}
\lab{80}{895.5}{vC}{2.7}{5.2}{X Chromosome}
\lab{256.5}{895.5}{vC}{2.7}{6}{Chromosomes, Human, Pair 9}
\lab{389}{895.5}{gA}{2.7}{5.2}{Fibula}
\lab{439}{896}{gA}{2.7}{5.2}{Umbilical Arteries}
\lab{156.5}{899.6}{vC}{2.7}{5.5}{Chromosomes, Human, Pair 5}
\lab{300}{901.7}{vC}{2.7}{5.2}{Chromosomes, Human, Pair 3}
\lab{348.5}{899.6}{gA}{2.7}{5.2}{Umbilical Veins}
\lab{552.5}{910.4}{gA}{2.7}{5.2}{Fetoscopy}
\lab{132.5}{907.7}{vC}{2.7}{5.5}{Ring Chromosomes}
\lab{199}{905.8}{vC}{2.7}{6}{Chromosomes, Human, Pair 22}
\lab{378.5}{908.5}{gA}{3.5}{7.6}{Heart Defects, Congenital}
\lab{308.5}{918.7}{gA}{8.5}{18}{Fetal Diseases}
\lab{162.5}{918.7}{vC}{3}{7}{Chromosome Deletion}
\lab{110}{924.2}{vC}{2.7}{5.2}{Cri-du-chat Syndrome}
\lab{215}{925.5}{vC}{2.7}{5.5}{Chromosomes, Human, Pair 1}
\lab{357.5}{926.4}{gA}{2.7}{5.2}{Limb Deformities, Congenital}
\lab{416}{920.6}{gA}{2.7}{5.2}{Achondroplasia}
\lab{419}{929}{gA}{2.7}{5.2}{Microcephaly}
\lab{134}{934.2}{vC}{2.7}{5.2}{Oligonucleotide Array Sequence Analysis}
\lab{286.5}{935.6}{gA}{2.7}{5.2}{Urethral Obstruction}
\lab{396.5}{933.7}{gA}{2.7}{5.2}{Gastroschisis}
\lab{145}{941.9}{vC}{2.7}{5.2}{Chromosomes, Human, Pair 11}
\lab{202.5}{945.4}{vC}{3}{7}{Gene Deletion}
\lab{273.5}{943.8}{gA}{2.7}{5.5}{Lymphangioma, Cystic}
\lab{487.5}{950}{gA}{12.5}{30.3}{Ultrasonography, Prenatal}
\lab{135}{955}{vC}{2.7}{5.2}{Beckwith-wiedemann Syndrome}
\lab{227.5}{954}{gA}{2.7}{5.2}{Osteogenesis Imperfecta}
\lab{309}{956.8}{gA}{2.7}{5.2}{Urinary Bladder}
\lab{255}{964}{gA}{2.7}{5.2}{Encephalocele}
\lab{313.5}{964}{gA}{2.7}{5.2}{Kidney Diseases}
\lab{384}{962.8}{gA}{2.7}{5.2}{Nervous System Malformations}
\lab{377.5}{968.5}{gA}{2.7}{5.2}{Brain Diseases}
\lab{444}{967.7}{gA}{2.7}{5.2}{Cysts}
\lab{287.5}{974}{gA}{2.7}{5.5}{Craniofacial Abnormalities}
\lab{391}{977.8}{gA}{2.7}{5.2}{Cytomegalovirus Infections}
\lab{534}{974}{gA}{2.7}{5.2}{Arthrogryposis}
\lab{296}{982}{gA}{2.7}{5.8}{Pregnancy Complications, Infectious}
\lab{424}{984.8}{gA}{3}{6.5}{Lung}
\lab{515}{984}{gA}{2.7}{5.2}{Acrocephalosyndactylia}
\lab{606.5}{983.5}{nC}{2.7}{5.2}{Placental Diseases}
\lab{347.5}{988}{gA}{2.7}{5.2}{Teratoma}
\lab{225}{995.7}{gA}{5.5}{12.8}{Abnormalities, Multiple}
\lab{392.5}{995}{gA}{2.7}{5.2}{Agenesis Of Corpus Callosum}
\lab{441.5}{1002.5}{gA}{3.2}{6.8}{Magnetic Resonance Imaging}
\lab{546.5}{997.6}{gA}{2.7}{5.2}{Heart Septal Defects, Ventricular}
\lab{232.5}{1003}{gA}{2.7}{5}{Gene Duplication}
\lab{335}{1008.5}{gA}{2.7}{5.2}{Hernia, Umbilical}
\lab{526}{1006.6}{gA}{2.7}{5.5}{Hernia, Diaphragmatic}
\lab{612.5}{1006.6}{nC}{2.7}{5.2}{Hemangioma}
\lab{556}{1013.4}{gA}{2.7}{5.2}{Heart Septal Defects, Atrial}
\lab{265.5}{1012}{gA}{2.7}{5.5}{Dandy-walker Syndrome}
\lab{348.5}{1018.6}{gA}{2.7}{5.2}{Middle Cerebral Artery}
\lab{456}{1020.7}{gA}{2.7}{5.2}{Embryonic And Fetal Development}
\lab{632.5}{1023}{nC}{2.7}{5.2}{Pregnancy Complications, Neoplastic}
\lab{271.5}{1024}{gA}{2.7}{5.2}{Osteochondrodysplasias}
\lab{375.5}{1025}{gA}{3}{7}{Brain}
\lab{355}{1031.6}{gA}{2.7}{5.2}{Bone Diseases, Developmental}
\lab{306}{1039}{gA}{3.5}{6.5}{Hydrops Fetalis}
\lab{346.5}{1037}{gA}{2.7}{5.2}{Edema}
\lab{391.5}{1037}{gA}{2.7}{5.5}{Cerebral Ventricles}
\lab{456}{1036.2}{gA}{2.7}{5.2}{Nephrotic Syndrome}
\lab{501.5}{1043}{gA}{2.7}{5.2}{Cleft Palate}
\lab{384}{1044}{gA}{2.7}{5.2}{Head And Neck Neoplasms}
\lab{295}{1048.5}{gA}{2.7}{5.2}{Hydrocephalus}
\lab{341.5}{1050.7}{gA}{2.7}{5.2}{Kidney Pelvis}
\lab{404}{1051.5}{gA}{2.7}{5.2}{Electrocardiography}
\lab{524}{1049.3}{gA}{2.7}{5.2}{Cleft Lip}
\lab{312.5}{1057.5}{gA}{2.7}{5.2}{Heart Neoplasms}
\lab{390}{1065}{gA}{2.7}{5.2}{Arrhythmias, Cardiac}
% ---------------- Panel D
\lab{1230.5}{590}{cD}{2.8}{5.3}{Translocation, Genetic}
\lab{1324}{590.7}{cD}{2.8}{5.3}{Anemia, Sickle Cell}
\lab{1296.5}{600}{cD}{2.8}{5.3}{Beta-thalassemia}
\lab{1254}{605}{cD}{2.8}{5.5}{Patient Preference}
\lab{1202.5}{612}{cD}{3}{6.5}{Attitude Of Health Personnel}
\lab{1273}{613}{cD}{3}{6.5}{Genetic Carrier Screening}
\lab{1260.5}{619.8}{cD}{2.8}{5.3}{Choice Behavior}
\lab{1130}{621.4}{cD}{2.8}{5.3}{Practice Patterns, Physicians'}
\lab{1170}{628.8}{cD}{3.2}{6.5}{Abortion, Eugenic}
\lab{1278}{627}{cD}{2.8}{5.3}{Patient Education As Topic}
\lab{1324}{633.7}{cD}{2.8}{5.3}{DNA Mutational Analysis}
\lab{1228}{637}{cD}{3.2}{6.8}{Preimplantation Diagnosis}
\lab{1111.5}{644.3}{yD}{2.8}{5.3}{Polymorphism, Single Nucleotide}
\lab{1175}{644.6}{cD}{2.8}{5.3}{Exome}
\lab{1261.5}{644.6}{cD}{3.2}{6.8}{Genetic Diseases, Inborn}
\lab{1338}{644.6}{cD}{2.8}{5.3}{Anxiety}
\lab{1301.5}{652.4}{cD}{2.8}{5.5}{Decision Making}
\lab{1124}{656.5}{cD}{2.8}{5.5}{Whole Exome Sequencing}
\lab{1241.5}{660.6}{cD}{3.2}{6.5}{Health Knowledge, Attitudes, Practice}
\lab{1317.5}{668.8}{cD}{2.8}{5.5}{Patient Acceptance Of Health Care}
\lab{1203}{672.3}{cD}{4}{8}{Genetic Counseling}
\lab{1455.5}{672.8}{cD}{2.8}{5.3}{Pregnancy Complications, Neoplastic}
\lab{1126.5}{681}{cD}{3.2}{6.5}{Obstetrics}
\lab{1181.5}{679}{cD}{2.8}{5.3}{Attitude To Health}
\lab{1268}{679.6}{cD}{2.8}{5.5}{Chromosomes, Human, X}
\lab{1167.5}{687.3}{yD}{2.8}{5.5}{Chromosome Deletion}
\lab{1293}{687.8}{cD}{2.8}{5.5}{Sex Chromosome Aberrations}
\lab{1109}{694.6}{yD}{2.8}{5.3}{Trophoblasts}
\lab{1194}{695}{yD}{2.8}{5.3}{Chorionic Villi}
\lab{1256.5}{694.6}{cD}{2.8}{5.3}{Uniparental Disomy}
\lab{1410}{691.3}{cD}{2.8}{5.3}{Noninvasive Prenatal Testing}
\lab{1389}{699}{cD}{2.8}{5.3}{Sex Chromosome Disorders Of Sex Development}
\lab{1154}{702.8}{yD}{3.5}{7.3}{Microarray Analysis}
\lab{1240}{704.4}{cD}{6}{12.3}{Genetic Testing}
\lab{1326.5}{706.3}{cD}{3.2}{7}{Cell-free Nucleic Acids}
\lab{1107.5}{710.4}{yD}{2.8}{5.3}{Cytogenetic Analysis}
\lab{1177.5}{713.6}{yD}{3.5}{7.5}{Karyotyping}
\lab{1279}{714}{cD}{2.8}{5.5}{Turner Syndrome}
\lab{1390}{714.5}{cD}{2.8}{5.3}{Monosomy}
\lab{1096.5}{716.6}{yD}{2.8}{5.3}{Polyhydramnios}
\lab{1132.5}{722}{yD}{3}{6.5}{Polymerase Chain Reaction}
\lab{1210.5}{721.3}{yD}{4}{8.8}{Mosaicism}
\lab{1270}{722.6}{cD}{6}{12.3}{Aneuploidy}
\lab{1353}{722.6}{cD}{2.8}{5.5}{Sex Determination Analysis}
\lab{1396.5}{730.2}{cD}{2.8}{5.5}{Chromosomes, Human, Y}
\lab{1226.5}{730.2}{yD}{3.2}{7.3}{High-throughput Nucleotide Sequencing}
\lab{1060.5}{729}{gA}{2.8}{5.3}{Counseling}
\lab{1001.5}{734.3}{gA}{2.8}{5.3}{Digeorge Syndrome}
\lab{1076.5}{736.8}{gA}{2.8}{5.3}{Abortion, Spontaneous}
\lab{1216.5}{743}{yD}{3.2}{7}{Comparative Genomic Hybridization}
\lab{1370.5}{743}{cD}{6}{13}{Maternal Serum Screening Tests}
\lab{1041.5}{746}{gA}{2.8}{5.3}{Urethral Obstruction}
\lab{1106.5}{754}{yD}{3.5}{8.5}{Chorionic Villi Sampling}
\lab{1246.5}{755.4}{cD}{3.5}{7.8}{Sequence Analysis, Dna}
\lab{1011.5}{752}{gA}{2.8}{5.3}{Cloaca}
\lab{960.5}{761}{gA}{2.8}{5.3}{Urogenital Abnormalities}
\lab{1039}{761.4}{gA}{3}{6.5}{Hydrops Fetalis}
\lab{1124}{761}{yD}{3.5}{8.3}{Amniocentesis}
\lab{1289}{764.4}{cD}{3.2}{7}{Chromosomes, Human, Pair 18}
\lab{970}{769.5}{gA}{2.8}{5.3}{Teratoma}
\lab{1124}{768}{yD}{2.8}{6}{Dna Copy Number Variations}
\lab{1331.5}{773}{cD}{2.8}{5.5}{DNA Methylation}
\lab{1441.5}{775.8}{cD}{2.8}{5.3}{Pregnancy Complications, Hematologic}
\lab{1173}{777}{yD}{4}{9.9}{Chromosome Aberrations}
\lab{1246.5}{774.4}{cD}{5}{12.3}{DNA}
\lab{1019}{779}{gA}{2.8}{5.3}{Limb Deformities, Congenital}
\lab{1141.5}{782.6}{yD}{2.8}{5.3}{Diagnostic Errors}
\lab{1321.5}{780.7}{cD}{3.5}{7}{Abortion, Induced}
\lab{1390}{786.7}{cD}{2.8}{5.3}{Fetal Blood}
\lab{1318}{788}{cD}{2.8}{5.3}{Noonan Syndrome}
\lab{1349}{793.5}{cD}{3.2}{6.8}{Pregnancy}
\lab{1111.5}{790}{yD}{3.5}{8.1}{Amniotic Fluid}
\lab{1208}{792}{yD}{6}{12.7}{Chromosome Disorders}
\lab{935.5}{792}{gA}{2.8}{5.3}{Neurodevelopmental Disorders}
\lab{1005.5}{788}{gA}{3}{6}{Kidney}
\lab{1142.5}{799}{yD}{2.8}{5.3}{Oligonucleotide Array Sequence Analysis}
\lab{994}{798.4}{gA}{3.5}{7.7}{Fetal Therapies}
\lab{1376.5}{800.8}{cD}{2.8}{5.3}{Maternal Age}
\lab{928}{806.3}{gA}{2.8}{5.3}{Aorta, Thoracic}
\lab{1015}{807}{gA}{2.8}{5.5}{Nervous System Malformations}
\lab{1279}{805.7}{cD}{2.8}{5.3}{Chromosomes, Human, Pair 21}
\lab{1420.5}{812.5}{cD}{2.8}{5.3}{Genotyping Techniques}
\lab{1247.5}{814.7}{cD}{5}{11.1}{Trisomy}
\lab{966.5}{814.4}{gA}{2.8}{5.3}{Cysts}
\lab{1166.5}{816.6}{gA}{4}{9.6}{Congenital Abnormalities}
\lab{1351.5}{822}{cD}{2.8}{5.5}{Rh-hr Blood-group System}
\lab{1043}{824}{gA}{6}{17.2}{Fetal Diseases}
\lab{928}{834.3}{gA}{2.8}{5.3}{Cerebellum}
\lab{1021.5}{837.5}{gA}{2.8}{5.3}{Lung Diseases}
\lab{1086.5}{835.6}{gA}{2.8}{5.3}{Autopsy}
\lab{1126.5}{838.4}{gA}{5.5}{15}{Fetus}
\lab{1169}{831.6}{rB}{2.8}{5.3}{Alpha-thalassemia}
\lab{1310}{842}{cD}{9}{21.6}{Down Syndrome}
\lab{1444}{837}{cD}{2.8}{5.3}{Decision Support Techniques}
\lab{1188}{843.3}{yD}{3.2}{7}{Placenta Diseases}
\lab{953}{846}{gA}{2.8}{5.3}{Kidney Diseases}
\lab{1071.5}{849.2}{gA}{4}{8.8}{Abnormalities, Multiple}
\lab{1395}{849.2}{cD}{3.2}{7}{Mass Screening}
\lab{992}{852}{gA}{3.2}{7.5}{Lung}
\lab{1167.5}{851}{rB}{2.8}{5.3}{Hemoglobins, Abnormal}
\lab{969}{859.6}{gA}{2.8}{5.3}{Liver}
\lab{913}{862.3}{gA}{2.8}{5.3}{Dandy-walker Syndrome}
\lab{1050.5}{861.5}{gA}{5.5}{11.5}{Heart Defects, Congenital}
\lab{1144}{860}{gA}{2.8}{5.3}{Fetal Development}
\lab{1263}{861.5}{rB}{6.5}{14}{Pregnancy Trimester, First}
\lab{972.5}{869}{gA}{2.8}{5.3}{Meningomyelocele}
\lab{1061.5}{869}{gA}{3.5}{8.3}{Magnetic Resonance Imaging}
\lab{1209}{869}{cD}{4}{9.6}{Nuchal Translucency Measurement}
\lab{1373}{868.3}{cD}{2.8}{5.3}{Neck}
\lab{1158}{875.6}{gA}{2.8}{5.3}{Neural Tube Defects}
\lab{937.5}{877}{gA}{2.8}{5.3}{Cisterna Magna}
\lab{1359}{877}{rB}{3.5}{8}{Chorionic Gonadotropin, Beta Subunit, Human}
\lab{1072.5}{881}{gA}{2.8}{6}{Imaging, Three-dimensional}
\lab{915}{887.3}{gA}{2.8}{5.3}{Intellectual Disability}
\lab{1309}{876.4}{rB}{2.8}{5.3}{Inhibins}
\lab{1188}{884}{cD}{2.8}{5.3}{Nasal Bone}
\lab{1394}{886.8}{rB}{2.8}{5.3}{Membrane Proteins}
\lab{1059}{889.5}{gA}{3.2}{6.5}{Brain}
\lab{1215}{891.4}{oC}{5}{10.3}{Placenta}
\lab{1280.5}{891.4}{rB}{4}{7.9}{Biomarkers}
\lab{1146.5}{892.8}{gA}{4.5}{8.2}{Pregnancy Outcome}
\lab{1355}{895.5}{cD}{2.8}{5.3}{Alpha-fetoproteins}
\lab{993}{898.7}{gA}{3.5}{8}{Hernias, Diaphragmatic, Congenital}
\lab{1260.5}{901.7}{rB}{4}{8.9}{Pregnancy Complications}
\lab{1394}{901.7}{rB}{2.8}{5.3}{Adam Proteins}
\lab{1122.5}{902.8}{gA}{2.8}{5.3}{Mothers}
\lab{954}{906.4}{gA}{2.8}{5.3}{Echocardiography}
\lab{1042.5}{907.7}{gA}{2.8}{5.3}{Hypoplastic Left Heart Syndrome}
\lab{896}{911.8}{gA}{2.8}{5.3}{Agenesis Of Corpus Callosum}
\lab{1325}{909}{rB}{5}{9.6}{Pregnancy-associated Plasma Protein-a}
\lab{1008}{911.8}{gA}{2.8}{5.3}{Anemia}
\lab{1132.5}{911}{gA}{2.8}{5.3}{Femur}
\lab{1188}{913.8}{oC}{3}{6.5}{Diseases In Twins}
\lab{1395.5}{917.4}{rB}{2.8}{5.3}{Hemoglobinopathies}
\lab{936.5}{920.6}{gA}{2.8}{5.3}{Vascular Malformations}
\lab{1333}{922}{rB}{2.8}{5.3}{Smoking}
\lab{1101.5}{924.7}{oC}{5}{10.3}{Fetal Growth Retardation}
\lab{1243}{923.4}{rB}{5}{9.4}{Pregnancy Trimester, Second}
\lab{879}{927}{gA}{2.8}{5.3}{Genetic Diseases, X-linked}
\lab{1389}{929.6}{cD}{2.8}{5.5}{Prenatal Care}
\lab{967.5}{930.4}{gA}{3.5}{7.5}{Hydrocephalus}
\lab{1021.5}{931.5}{gA}{2.8}{5.3}{Tricuspid Valve}
\lab{1198}{933}{gA}{5}{10}{Gestational Age}
\lab{1339}{937.2}{cD}{2.8}{5.8}{Pregnancy Proteins}
\lab{869}{944}{gA}{2.8}{5.3}{Trachea}
\lab{1083}{949.5}{gA}{14}{29}{Ultrasonography, Prenatal}
\lab{1310.5}{947.3}{cD}{2.8}{5.3}{Estriol}
\lab{1375.5}{947.8}{rB}{2.8}{5.3}{Chorionic Gonadotropin}
\lab{884}{953.6}{gA}{2.8}{5.5}{Pulmonary Artery}
\lab{1289}{956.8}{rB}{5.5}{9.5}{Pre-eclampsia}
\lab{1205.5}{961}{oC}{3.5}{7}{Pregnancy, Twin}
\lab{926.5}{962.3}{gA}{2.8}{5.3}{Cerebral Cortex}
\lab{1125}{965}{gA}{2.8}{5.5}{Pregnancy Trimester, Third}
\lab{1263}{965.5}{rB}{2.8}{5.3}{Spinal Dysraphism}
\lab{1333}{965}{rB}{2.8}{5.3}{Cervix Uteri}
\lab{973}{971}{gA}{3.5}{6.9}{Pregnancy Complications, Infectious}
\lab{1156.5}{974}{oC}{3.5}{7.2}{Twins, Monozygotic}
\lab{1280.5}{972.6}{rB}{4.5}{8.5}{Premature Birth}
\lab{1193}{980.5}{gA}{2.8}{5.3}{Fetal Macrosomia}
\lab{1346.5}{980}{rB}{2.8}{5.3}{Obstetric Labor, Premature}
\lab{942.5}{981.8}{gA}{2.8}{5.3}{Ascites}
\lab{1015}{983.5}{gA}{5}{10}{Fetal Heart}
\lab{1077.5}{984.8}{gA}{2.8}{5.3}{Umbilical Veins}
\lab{1235.5}{986.7}{rB}{2.8}{5.3}{Head}
\lab{1150.5}{989.5}{oC}{2.8}{5.3}{Chorion}
\lab{1261.5}{995}{rB}{2.8}{5.5}{Rna, Messenger}
\lab{1100.5}{997.6}{oC}{5}{8.9}{Fetofetal Transfusion}
\lab{990}{999.5}{gA}{2.8}{5.3}{Heart Ventricles}
\lab{1176.5}{1000.3}{oC}{2.8}{5.3}{Twins}
\lab{1208}{1001}{gA}{2.8}{5.3}{Stillbirth}
\lab{1318}{1003}{oC}{2.8}{5.5}{Infant, Small For Gestational Age}
\lab{1054}{1003.6}{gA}{2.8}{5.3}{Gastroschisis}
\lab{1010}{1011}{gA}{2.8}{5.3}{Clubfoot}
\lab{1147.5}{1008.5}{oC}{2.8}{5.5}{Middle Cerebral Artery}
\lab{1235}{1011}{gA}{3}{6.2}{Uterine Artery}
\lab{1320}{1011}{rB}{2.8}{5.3}{Cordocentesis}
\lab{1065}{1016}{gA}{3}{6}{Birth Weight}
\lab{1110.5}{1018}{oC}{4.5}{7.8}{Fetoscopy}
\lab{1269}{1018}{rB}{2.8}{5.3}{Umbilical Cord}
\lab{990.5}{1022}{gA}{2.8}{5.3}{Image Processing, Computer-assisted}
\lab{1145.5}{1022.6}{oC}{2.8}{5.3}{Amnion}
\lab{1203}{1024.8}{gA}{3}{6.2}{Crown-rump Length}
\lab{1304}{1024.8}{oC}{2.8}{5.3}{Placenta Accreta}
\lab{1027.5}{1030.3}{gA}{3}{6}{Cleft Lip}
\lab{1092.5}{1030.3}{gA}{2.8}{5.3}{Echoencephalography}
\lab{1256.5}{1033}{gA}{2.8}{5.3}{Ultrasonography, Doppler}
\lab{1064}{1039}{oC}{3}{6.2}{Laser Therapy}
\lab{1170}{1038}{oC}{2.8}{5.3}{Pregnancy, Multiple}
\lab{1355.5}{1040.6}{oC}{2.8}{5.3}{Reproductive Techniques, Assisted}
\lab{1114}{1045.8}{oC}{3}{6}{Fetal Death}
\lab{1185}{1045.2}{oC}{2.8}{5.5}{Umbilical Arteries}
\lab{1133}{1053.4}{gA}{2.8}{5.3}{Pregnancy Complications, Cardiovascular}
\lab{1055.5}{1058.8}{gA}{2.8}{5.3}{Fetal Weight}
\lab{1017}{1065.6}{gA}{2.8}{5.3}{Diabetes, Gestational}
\lab{1171.5}{1067}{oC}{2.8}{5.5}{Laser Coagulation}
\lab{1196.5}{1076.5}{oC}{2.8}{5.5}{Pregnancy Reduction, Multifetal}
\lab{1041.5}{1078.4}{gA}{2.8}{5.3}{Child Development}
\lab{1095.5}{1083.3}{gA}{2.8}{5.3}{Vena Cava, Inferior}
\lab{1159}{1088.7}{cD}{2.8}{5.3}{Pregnancy In Diabetics}
\lab{1040.5}{1098.3}{gA}{2.8}{5.3}{Fertilization In Vitro}
}
\begin{document}
\begin{tikzpicture}[x=1pt,y=-1pt]
\useasboundingbox (0,0) rectangle (1568,1103);
\fill[white] (0,0) rectangle (1568,1103);
% cluster ellipses
\begin{scope}[ell, line width=2.6pt]
\draw (285,145) ellipse [x radius=140pt, y radius=133pt];
\draw (543,139) ellipse [x radius=77pt, y radius=129pt];
\draw (278,408) ellipse [x radius=116pt, y radius=120pt];
\draw (492,380) ellipse [x radius=100pt, y radius=103pt];
\end{scope}
\begin{scope}[ell, line width=2.2pt]
\draw (1012,200) ellipse [x radius=90pt, y radius=104pt];
\draw (1315,165) ellipse [x radius=158pt, y radius=140pt];
\draw (1040,433) ellipse [x radius=146pt, y radius=90pt];
\draw (1305,425) ellipse [x radius=117pt, y radius=100pt];
\end{scope}
\begin{scope}[ell, line width=1.6pt]
\draw (198,668) ellipse [x radius=127pt, y radius=83pt];
\draw (432,712) ellipse [x radius=106pt, y radius=118pt];
\draw (194,860) ellipse [x radius=129pt, y radius=90pt];
\draw (466,974) ellipse [x radius=196pt, y radius=108pt];
\draw (1340,722) ellipse [x radius=117pt, y radius=132pt];
\draw (1157,741) ellipse [x radius=67pt, y radius=67pt];
\draw (1003,880) ellipse [x radius=146pt, y radius=132pt];
\draw (1316,925) ellipse [x radius=108pt, y radius=70pt];
\draw (1174,1015) ellipse [x radius=80pt, y radius=68pt];
\end{scope}
% dots
\def\lab#1#2#3#4#5#6{\fill[#3] (#1,{#2-0.3*#5}) circle (#4pt);}
\alldata
% labels
\def\lab#1#2#3#4#5#6{\node[lbl,font={\fontsize{#5}{#5}\selectfont}] at (#1,#2) {#6};}
\alldata
% panel letters
\node[panl] (pA) at (2,24.5) {(A)};
\node[panl] (pB) at (793,24.5) {(B)};
\node[panl] (pC) at (2,583) {(C)};
\node[panl] (pD) at (793,584.6) {(D)};
% cluster names
\cl{5,102}{Amniocentesis,}{12.7}{a1}
\cl{5,120}{single gene \&}{12.7}{a2}
\cl{5,137}{metabolic disorders}{12.7}{a3}
\node[cll,anchor=east,font=\clfont\itshape\fontsize{12.7}{12.7}\selectfont] (a4) at (745,40) {Sex linked disorders};
\cl{571,469}{Cytogenetics}{12.7}{a5}
\cl{81,503.5}{Fetal imaging \&}{12.7}{a6}
\cl{81,521}{anomalies}{12.7}{a7}
\cl{1432,40.3}{Diagnostic procedures}{11.8}{b1}
\cl{1432,54.4}{\& cytogenetics}{11.8}{b2}
\cl{804,114}{Serum screening}{11.8}{b3}
\cl{804,502.7}{Single gene disorders}{11.8}{b4}
\cl{1403,497.5}{Fetal imaging \&}{11.8}{b5}
\cl{1403,511.6}{anomalies}{11.8}{b6}
\cl{2.5,628.8}{Miscellaneous}{11.8}{c1}
\cl{546.5,658.7}{Serum screening}{11.8}{c2}
\cl{4,917.4}{Cytogenetics}{11.8}{c3}
\cl{637.5,892}{Fetal imaging \&}{11.8}{c4}
\cl{637.5,906.5}{anomalies}{11.8}{c5}
\cl{1386.5,594.8}{Molecular genetics}{11.8}{d1}
\cl{1001.5,679}{Chromosome}{11.8}{d2}
\cl{1001.5,695}{microarrays}{11.8}{d3}
\cl{856.5,735.4}{Fetal imaging \&}{11.8}{d4}
\cl{856.5,750.8}{anomalies}{11.8}{d5}
\cl{1415.5,964}{Serum screening}{11.8}{d6}
\cl{1236.5,1067}{Miscellaneous}{11.8}{d7}
\end{tikzpicture}
\end{document}
